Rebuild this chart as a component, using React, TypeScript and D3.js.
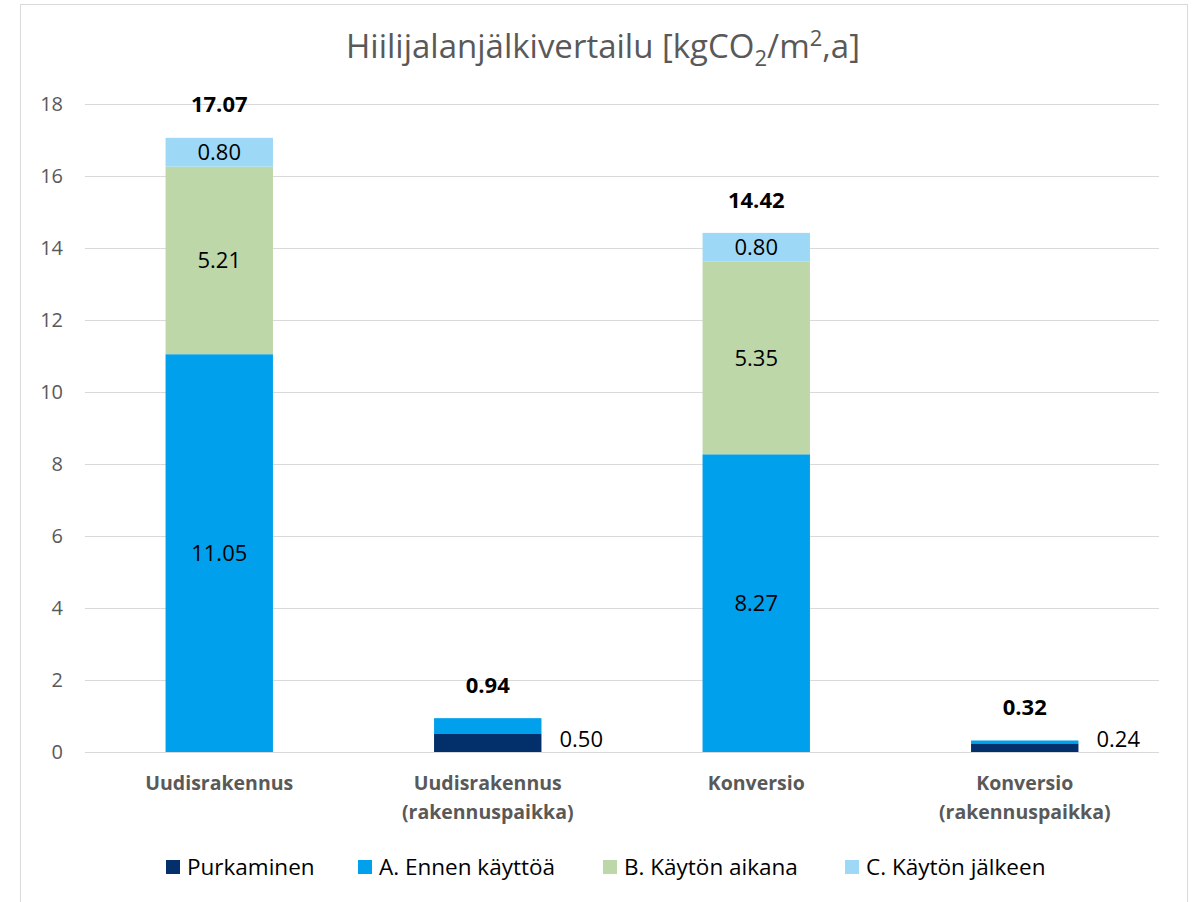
import React from "react";
import * as d3 from "d3";

const categories = [
  ["Uudisrakennus"],
  ["Uudisrakennus", "(rakennuspaikka)"],
  ["Konversio"],
  ["Konversio", "(rakennuspaikka)"],
];
const seriesNames = ["Purkaminen", "A. Ennen käyttöä", "B. Käytön aikana", "C. Käytön jälkeen"];
const seriesColors = ["#03306b", "#00a0ed", "#bdd7a8", "#9dd8f6"];
const purkaminen = [0, 0.5, 0, 0.24];
const ennen = [11.05, 0.44, 8.27, 0.08];
const aikana = [5.21, 0, 5.35, 0];
const jalkeen = [0.8, 0, 0.8, 0];
const totals = [17.07, 0.94, 14.42, 0.32];
const yTicks = [0, 2, 4, 6, 8, 10, 12, 14, 16, 18];

const FONT = "'Open Sans', 'Noto Sans', sans-serif";

export default function App() {
  const W = 1199, H = 902;
  const left = 85, right = 1159, top = 104, bottom = 752;
  const keys = categories.map((_, i) => String(i));
  const x = d3.scaleBand().domain(keys).range([left, right]).paddingInner(0.6).paddingOuter(0.3);
  const y = d3.scaleLinear().domain([0, 18]).range([bottom, top]);
  const rows = keys.map((k, i) => ({ key: k, s0: purkaminen[i], s1: ennen[i], s2: aikana[i], s3: jalkeen[i] }));
  const stack = d3.stack<any>().keys(["s0", "s1", "s2", "s3"]);
  const stacked = stack(rows);
  const bw = x.bandwidth();

  const legendX = [166, 358, 603, 845];

  return (
    <svg width={W} height={H} style={{ display: "block", position: "absolute", left: 0, top: 0 }} fontFamily={FONT}>
      <rect x={0} y={0} width={W} height={H} fill="#fff" />
      <rect x={20.5} y={4.5} width={1167} height={H + 20} fill="#fff" stroke="#d9d9d9" strokeWidth={1} />
      <text x={603} y={58} textAnchor="middle" fontSize={33} fill="#595959" fontWeight={400}>
        <tspan>Hiilijalanjälkivertailu [kgCO</tspan>
        <tspan fontSize={22} dy={8}>2</tspan>
        <tspan dy={-8}>/m</tspan>
        <tspan fontSize={22} dy={-12}>2</tspan>
        <tspan dy={12}>,a]</tspan>
      </text>
      {yTicks.map((t) => (
        <g key={t}>
          <line x1={left} x2={right} y1={Math.round(y(t)) + 0.5} y2={Math.round(y(t)) + 0.5} stroke="#d9d9d9" strokeWidth={1} />
          <text x={63} y={y(t)} dy="0.35em" textAnchor="end" fontSize={20} fill="#595959">{t}</text>
        </g>
      ))}
      {stacked.map((layer, li) => (
        <g key={li} fill={seriesColors[li]}>
          {layer.map((d, i) => {
            const v = d[1] - d[0];
            if (v <= 0) return null;
            return <rect key={i} x={x(keys[i])} y={y(d[1])} width={bw} height={y(d[0]) - y(d[1])} />;
          })}
        </g>
      ))}
      {stacked.map((layer, li) =>
        layer.map((d, i) => {
          const v = d[1] - d[0];
          if (li === 0) {
            if (v <= 0) return null;
            return (
              <text key={`l${li}-${i}`} x={(x(keys[i]) as number) + bw + 18} y={739} dy="0.35em" fontSize={22} fill="#000">
                {v.toFixed(2)}
              </text>
            );
          }
          if (v < 0.7) return null;
          return (
            <text key={`l${li}-${i}`} x={(x(keys[i]) as number) + bw / 2} y={y((d[0] + d[1]) / 2)} dy="0.35em" textAnchor="middle" fontSize={22} fill="#000">
              {v.toFixed(2)}
            </text>
          );
        })
      )}
      {totals.map((t, i) => (
        <text key={`t${i}`} x={(x(keys[i]) as number) + bw / 2} y={y(t) - 33} dy="0.35em" textAnchor="middle" fontSize={22} fontWeight={700} fill="#000">
          {t.toFixed(2)}
        </text>
      ))}
      {categories.map((lines, i) => (
        <text key={`c${i}`} x={(x(keys[i]) as number) + bw / 2} y={783} textAnchor="middle" fontSize={19.5} fontWeight={700} fill="#595959">
          {lines.map((ln, j) => (
            <tspan key={j} x={(x(keys[i]) as number) + bw / 2} y={783 + j * 29} dy="0.35em">{ln}</tspan>
          ))}
        </text>
      ))}
      {seriesNames.map((n, i) => (
        <g key={`lg${i}`}>
          <rect x={legendX[i]} y={860} width={14} height={14} fill={seriesColors[i]} />
          <text x={legendX[i] + 21} y={867} dy="0.35em" fontSize={22.5} fill="#000">{n}</text>
        </g>
      ))}
    </svg>
  );
}
